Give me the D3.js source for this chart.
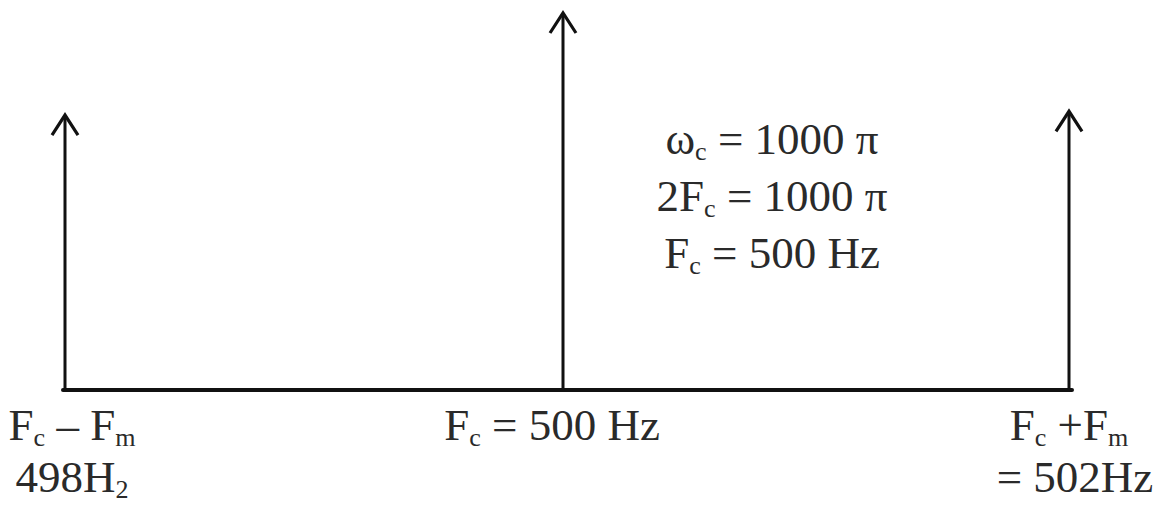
<!DOCTYPE html>
<html>
<head>
<meta charset="utf-8">
<script src="https://cdn.jsdelivr.net/npm/d3@7"></script>
<style>
  html, body { margin: 0; padding: 0; background: #fff; }
  svg { display: block; }
  text { font-family: "Liberation Serif", "DejaVu Serif", serif; fill: #2a2a2a; }
</style>
</head>
<body>
<div id="chart"></div>
<script>
// spectral lines of the AM signal (Hz) and their relative heights
const freqs = [498, 500, 502];
const amps = [0.73, 1, 0.74];

// labels under the axis, one entry per line; "_" marks a subscript
const axisLabels = [
  [["F", "_c", " – F", "_m"], ["498H", "_2"]],
  [["F", "_c", " = 500 Hz"]],
  [["F", "_c", " +F", "_m"], ["= 502Hz"]]
];
const labelOffsets = [7, -11, 0];   // small nudges so labels sit like the original
const noteLines = [
  ["ω", "_c", " = 1000 π"],
  ["2F", "_c", " = 1000 π"],
  ["F", "_c", " = 500 Hz"]
];

const width = 1158, height = 506;
const baseY = 390;
const fontSize = 45;

const svg = d3.select("#chart").append("svg")
  .attr("width", width).attr("height", height);

const x = d3.scaleLinear().domain(freqs).range([65, 563, 1069]);
const y = d3.scaleLinear().domain([0, 1]).range([baseY, 12]);

// axis line
svg.append("line")
  .attr("x1", x(freqs[0]) - 2).attr("x2", x(freqs[2]) + 3)
  .attr("y1", baseY).attr("y2", baseY)
  .attr("stroke", "#111").attr("stroke-width", 4)
  .attr("stroke-linecap", "round");

// spectral lines
svg.append("g").selectAll("line")
  .data(freqs)
  .join("line")
  .attr("x1", d => x(d)).attr("x2", d => x(d))
  .attr("y1", baseY).attr("y2", (d, i) => y(amps[i]) + 2)
  .attr("stroke", "#111").attr("stroke-width", 3);

// open arrow heads
svg.append("g").selectAll("path")
  .data(freqs)
  .join("path")
  .attr("d", (d, i) => {
    const tx = x(d), ty = y(amps[i]);
    return `M${tx - 13},${ty + 21}L${tx},${ty + 1}L${tx + 13},${ty + 21}`;
  })
  .attr("fill", "none").attr("stroke", "#111").attr("stroke-width", 3.2)
  .attr("stroke-linejoin", "miter");

// one centred line of text, subscripts dropped a little
function addLine(g, parts, cx, by, size) {
  const t = g.append("text").attr("x", cx).attr("y", by)
    .attr("text-anchor", "middle").attr("font-size", size);
  let shifted = false;
  parts.forEach(p => {
    if (p.startsWith("_")) {
      t.append("tspan").text(p.slice(1)).attr("font-size", size * 0.58)
        .attr("dy", shifted ? 0 : 6);
      shifted = true;
    } else {
      t.append("tspan").text(p).attr("dy", shifted ? -6 : 0);
      shifted = false;
    }
  });
}

const labels = svg.append("g");
axisLabels.forEach((lines, i) => {
  lines.forEach((parts, j) => {
    let cx = x(freqs[i]) + labelOffsets[i];
    if (i === 2 && j === 1) cx += 6;
    addLine(labels, parts, cx, 440 + j * 52, fontSize);
  });
});

const note = svg.append("g");
noteLines.forEach((parts, j) => {
  addLine(note, parts, 772, 154 + j * 57, fontSize);
});
</script>
</body>
</html>
